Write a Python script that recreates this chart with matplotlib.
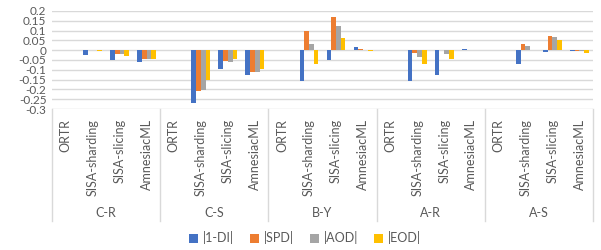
import matplotlib.pyplot as plt
import numpy as np
from matplotlib.lines import Line2D

plt.rcParams['font.family'] = ['Lato', 'DejaVu Sans']

groups = ['C-R', 'C-S', 'B-Y', 'A-R', 'A-S']
methods = ['ORTR', 'SISA-sharding', 'SISA-slicing', 'AmnesiacML']
metrics = ['|1-DI|', '|SPD|', '|AOD|', '|EOD|']
colors = ['#4472C4', '#ED7D31', '#A5A5A5', '#FFC000']

# values per category (group x method), in order of groups then methods
di = [0, -0.022, -0.048, -0.06,
      0, -0.267, -0.097, -0.128,
      0, -0.158, -0.051, 0.015,
      0, -0.158, -0.124, 0.004,
      0, -0.068, -0.007, -0.005]
spd = [0, 0, -0.02, -0.046,
       0, -0.207, -0.054, -0.11,
       0, 0.097, 0.17, 0.005,
       0, -0.014, 0.002, 0,
       0, 0.032, 0.073, -0.005]
aod = [0, 0, -0.02, -0.046,
       0, -0.204, -0.058, -0.112,
       0, 0.032, 0.124, 0,
       0, -0.034, -0.017, 0,
       0, 0.02, 0.066, -0.005]
eod = [0, -0.005, -0.03, -0.046,
       0, -0.153, -0.044, -0.097,
       0, -0.068, 0.06, -0.003,
       0, -0.068, -0.043, 0,
       0, 0, 0.051, -0.012]
series = [di, spd, aod, eod]

fig = plt.figure(figsize=(6.01, 2.5), dpi=100)
W, H = 601, 250
ax = fig.add_axes([52 / W, 1 - 109 / H, 541 / W, 98 / H])

n = len(groups) * len(methods)
x = np.arange(n)
bw = 0.175
for i, (vals, c) in enumerate(zip(series, colors)):
    ax.bar(x + (i - 1.5) * bw, vals, width=bw, color=c, label=metrics[i], zorder=3)

ax.set_xlim(-0.5, n - 0.5)
ax.set_ylim(-0.3, 0.2)
yt = np.round(np.arange(-0.3, 0.201, 0.05), 2)
ax.set_yticks(yt)
ax.set_yticklabels(['0' if v == 0 else ('%g' % v) for v in yt])
ax.grid(axis='y', color='#D9D9D9', linewidth=1, zorder=0)
for s in ax.spines.values():
    s.set_visible(False)
ax.tick_params(axis='y', length=0, labelsize=8.5, labelcolor='#595959', pad=4)
ax.set_xticks(x)
ax.set_xticklabels(methods * len(groups), rotation=90, fontsize=9, color='#595959')
ax.tick_params(axis='x', length=0, pad=7)

# group dividers and labels
bottom = 1 - 109 / H
for k in range(len(groups) + 1):
    xf = (52 + k * 108.2) / W
    fig.add_artist(Line2D([xf, xf], [bottom, 1 - 221 / H], color='#D9D9D9', linewidth=1))
for k, g in enumerate(groups):
    ax.text(k * 4 + 1.5, -0.3 - 104 / 98 * 0.5, g, ha='center', va='center',
            fontsize=9, color='#595959', clip_on=False)

fig.legend(loc='center', bbox_to_anchor=(305 / W, 1 - 238 / H), ncol=4, frameon=False,
           fontsize=9, handlelength=0.7, handleheight=0.7, handletextpad=0.4,
           columnspacing=1.3, labelcolor='#595959')

fig.savefig('out.png', dpi=100)
